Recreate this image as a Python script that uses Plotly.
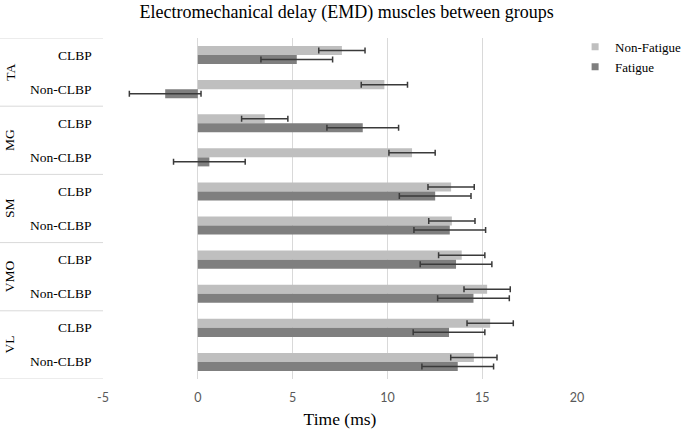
import plotly.graph_objects as go

# ---- data ----
muscles = ["TA", "MG", "SM", "VMO", "VL"]
groups = ["CLBP", "Non-CLBP"]
non_fatigue = [7.6, 9.84, 3.53, 11.3, 13.36, 13.4, 13.92, 15.26, 15.42, 14.56]
non_fatigue_err = [1.22, 1.22, 1.22, 1.22, 1.22, 1.22, 1.22, 1.22, 1.22, 1.22]
fatigue = [5.22, -1.72, 8.7, 0.61, 12.52, 13.29, 13.62, 14.54, 13.25, 13.71]
fatigue_err = [1.89, 1.89, 1.89, 1.89, 1.89, 1.89, 1.89, 1.89, 1.89, 1.89]
x_ticks = [-5, 0, 5, 10, 15, 20]

cats = [f"{m} {g}" for m in muscles for g in groups]

SERIF = "Liberation Serif, Times New Roman, serif"
NF_COLOR = "#bfbfbf"
F_COLOR = "#7f7f7f"
ERR_COLOR = "#3a3a3a"

fig = go.Figure()
fig.add_trace(go.Bar(
    y=cats, x=non_fatigue, orientation="h", name="Non-Fatigue",
    marker=dict(color=NF_COLOR, line=dict(width=0)),
    error_x=dict(type="data", array=non_fatigue_err, visible=True,
                 color=ERR_COLOR, thickness=1.5, width=3),
    showlegend=False,
))
fig.add_trace(go.Bar(
    y=cats, x=fatigue, orientation="h", name="Fatigue",
    marker=dict(color=F_COLOR, line=dict(width=0)),
    error_x=dict(type="data", array=fatigue_err, visible=True,
                 color=ERR_COLOR, thickness=1.5, width=3),
    showlegend=False,
))
# legend entries (small square swatches)
for name, col in [("Non-Fatigue", NF_COLOR), ("Fatigue", F_COLOR)]:
    fig.add_trace(go.Scatter(
        x=[None], y=[None], mode="markers", name=name,
        marker=dict(symbol="square", size=7, color=col),
        showlegend=True,
    ))

# category table on the left
annotations = []
shapes = []
n_groups = len(groups)
for i, m in enumerate(muscles):
    center = i * n_groups + (n_groups - 1) / 2
    annotations.append(dict(
        x=-0.197, xref="paper", y=center, yref="y", text=m, showarrow=False,
        textangle=-90, xanchor="center", yanchor="middle",
        font=dict(family=SERIF, size=13.5, color="#000000"),
    ))
    for j, g in enumerate(groups):
        annotations.append(dict(
            x=-0.019, xref="paper", y=i * n_groups + j, yref="y", text=g,
            showarrow=False, xanchor="right", yanchor="middle",
            font=dict(family=SERIF, size=13.5, color="#000000"),
        ))
for k in range(len(muscles) + 1):
    yb = k * n_groups - 0.5
    shapes.append(dict(
        type="line", xref="paper", yref="y", x0=-0.2174, x1=0, y0=yb, y1=yb,
        line=dict(color="#d9d9d9", width=1),
    ))

fig.update_layout(
    width=685, height=432,
    margin=dict(l=103, r=108, t=38, b=53, autoexpand=False),
    paper_bgcolor="white", plot_bgcolor="white",
    barmode="group", bargap=0.47, bargroupgap=0,
    title=dict(
        text="Electromechanical delay (EMD) muscles between groups",
        x=0.506, xanchor="center", y=0.972, yanchor="middle",
        font=dict(family=SERIF, size=18, color="#000000"),
    ),
    xaxis=dict(
        range=[-5, 20], tickvals=x_ticks, ticktext=[str(t) for t in x_ticks],
        showgrid=True, gridcolor="#d9d9d9", gridwidth=1,
        zeroline=True, zerolinecolor="#d9d9d9", zerolinewidth=1,
        showline=False, ticks="",
        tickfont=dict(family="Lato, Liberation Sans, sans-serif", size=12.5, color="#595959"),
        ticklabelstandoff=9,
        title=dict(text="Time (ms)", font=dict(family=SERIF, size=17.5, color="#000000"),
                   standoff=9),
    ),
    yaxis=dict(
        type="category", categoryarray=cats, categoryorder="array",
        range=[len(cats) - 0.5, -0.5],
        showticklabels=False, showgrid=False, zeroline=False, ticks="",
        showline=False,
    ),
    legend=dict(
        x=0.996, xanchor="left", y=1.018, yanchor="top",
        font=dict(family=SERIF, size=13, color="#000000"),
        bgcolor="rgba(0,0,0,0)", itemwidth=30, tracegroupgap=0,
    ),
    annotations=annotations,
    shapes=shapes,
)

fig.write_html(
    "out.html",
    config={"displayModeBar": False},
    post_script="document.body.style.margin='0';document.body.style.padding='0';",
)
